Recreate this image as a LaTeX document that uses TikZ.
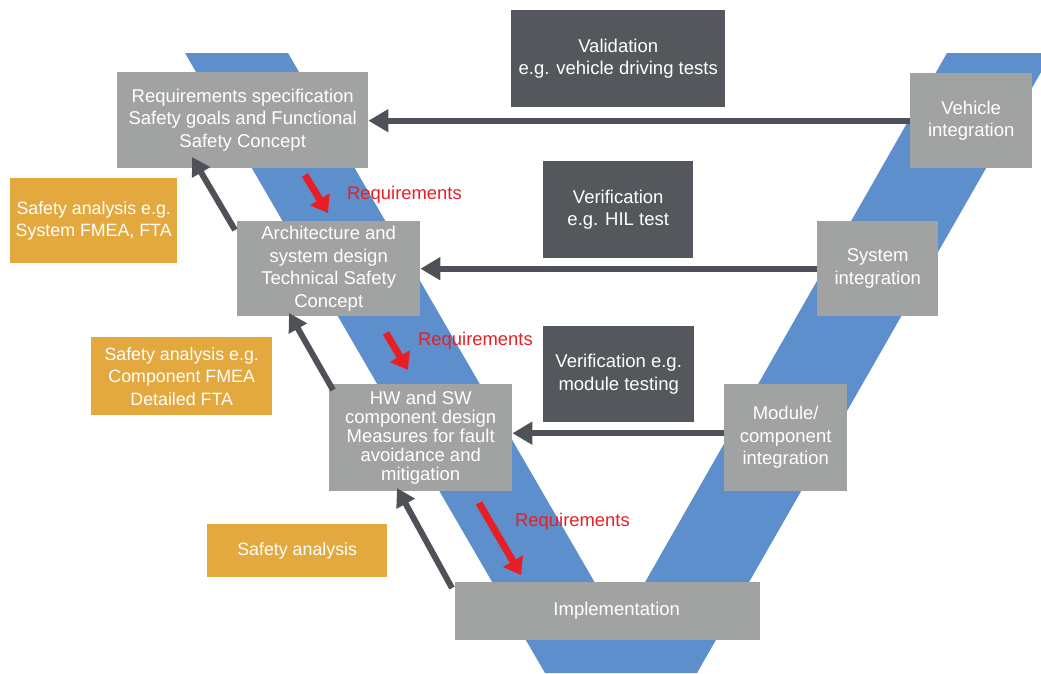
\documentclass[tikz,border=0pt]{standalone}
\usepackage{fontspec}
\setmainfont{Liberation Sans}
\usetikzlibrary{arrows.meta}
\definecolor{vblue}{RGB}{92,143,204}
\definecolor{boxgray}{RGB}{160,163,162}
\definecolor{boxdark}{RGB}{84,87,92}
\definecolor{boxorange}{RGB}{227,169,62}
\definecolor{arrgray}{RGB}{78,82,88}
\definecolor{reqred}{RGB}{232,30,36}
\begin{document}
\begin{tikzpicture}[x=1pt,y=-1pt,
  box/.style={font=\fontsize{18.5}{22.5}\selectfont, text=white, align=center, inner sep=0pt, anchor=north west},
  graybox/.style={box, fill=boxgray},
  darkbox/.style={box, fill=boxdark},
  orangebox/.style={box, fill=boxorange, font=\fontsize{17.8}{22.5}\selectfont},
  reqlabel/.style={font=\fontsize{18.4}{22}\selectfont, text=reqred, inner sep=0pt, anchor=west},
  harrow/.style={draw=arrgray, line width=6pt, -{Triangle[length=20pt,width=22pt]}},
  darrow/.style={draw=arrgray, line width=6pt, -{Triangle[length=18pt,width=20pt]}},
  rarrow/.style={draw=reqred, line width=7pt, -{Triangle[length=16pt,width=22pt]}}
]
\useasboundingbox (0,0) rectangle (1041,673);
\begin{scope}
\clip (0,0) rectangle (1041,673);
\fill[vblue] (185,53) -- (288,53) -- (620,626) -- (947,53) -- (1052,53) -- (697,673) -- (545,673) -- cycle;
\end{scope}

% gray boxes
\node[graybox, minimum width=251pt, minimum height=96pt] (req) at (117,72)
  {Requirements specification\\Safety goals and Functional\\Safety Concept};
\node[graybox, minimum width=183pt, minimum height=95pt] (arch) at (237,221)
  {Architecture and\\system design\\Technical Safety\\Concept};
\node[graybox, minimum width=183pt, minimum height=107pt, font=\fontsize{18.5}{19}\selectfont] (hw) at (329,384)
  {HW and SW\\component design\\Measures for fault\\avoidance and\\mitigation};
\node[graybox, minimum width=305pt, minimum height=58pt] (impl) at (455,582)
  {\hspace{18pt}Implementation};
\node[graybox, minimum width=122pt, minimum height=95pt] (veh) at (910,73)
  {Vehicle\\integration};
\node[graybox, minimum width=121pt, minimum height=95pt] (sys) at (817,221)
  {System\\integration};
\node[graybox, minimum width=123pt, minimum height=107pt] (mod) at (724,384)
  {Module/\\component\\integration};

% dark boxes
\node[darkbox, minimum width=214pt, minimum height=97pt] (val) at (511,10)
  {Validation\\e.g. vehicle driving tests};
\node[darkbox, minimum width=150pt, minimum height=97pt] (hil) at (543,161)
  {Verification\\e.g. HIL test};
\node[darkbox, minimum width=151pt, minimum height=96pt] (modt) at (543,326)
  {Verification e.g.\\module testing};

% orange boxes
\node[orangebox, minimum width=167pt, minimum height=85pt] (sa1) at (10,178)
  {Safety analysis e.g.\\System FMEA, FTA};
\node[orangebox, minimum width=181pt, minimum height=78pt] (sa2) at (91,337)
  {Safety analysis e.g.\\Component FMEA\\Detailed FTA};
\node[orangebox, minimum width=180pt, minimum height=53pt] (sa3) at (207,524)
  {Safety analysis};

% horizontal arrows
\draw[harrow] (veh.west) -- (veh.west -| req.east);
\draw[harrow] (sys.west) -- (sys.west -| arch.east);
\draw[harrow] ([yshift=4.5pt]mod.west) -- ([yshift=4.5pt]mod.west -| hw.east);

% diagonal feedback arrows
\coordinate (d1s) at (235,230);
\coordinate (d1e) at (192,157);
\coordinate (d2s) at (333,390);
\coordinate (d2e) at (289,313);
\coordinate (d3s) at (452,588);
\coordinate (d3e) at (397,488);
\draw[darrow] (d1s) -- (d1e);
\draw[darrow] (d2s) -- (d2e);
\draw[darrow] (d3s) -- (d3e);

% red requirement arrows
\coordinate (r1s) at (305,175);
\coordinate (r1e) at (328,213);
\coordinate (r2s) at (386,333);
\coordinate (r2e) at (408,370);
\coordinate (r3s) at (479,503);
\coordinate (r3e) at (521,575);
\draw[rarrow] (r1s) -- (r1e);
\draw[rarrow] (r2s) -- (r2e);
\draw[rarrow] (r3s) -- (r3e);
\node[reqlabel] (l1) at (347,195) {Requirements};
\node[reqlabel] (l2) at (418,341) {Requirements};
\node[reqlabel] (l3) at (515,522) {Requirements};
\end{tikzpicture}
\end{document}
